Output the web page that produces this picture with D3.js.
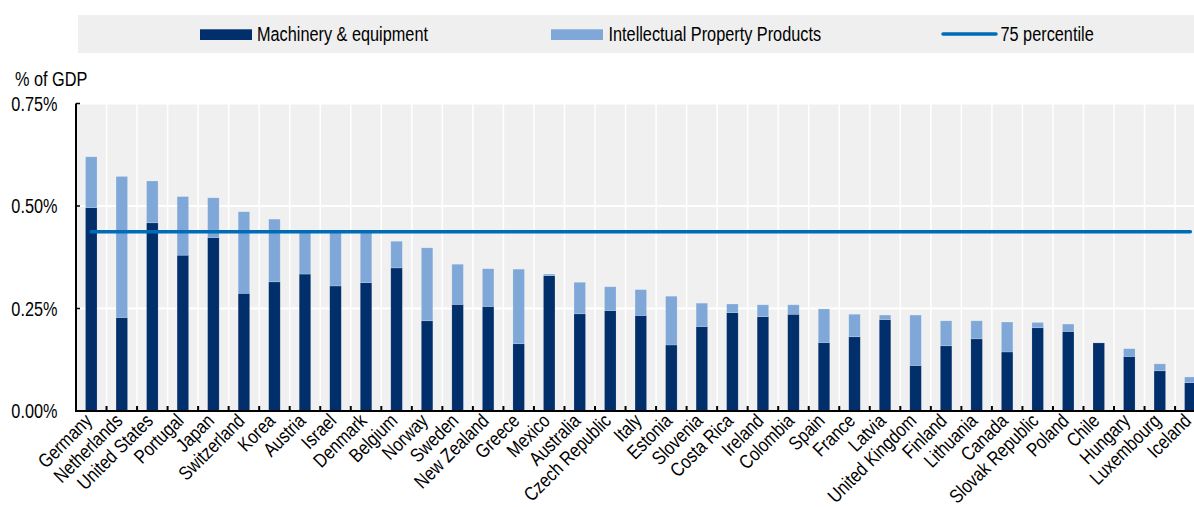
<!DOCTYPE html>
<html><head><meta charset="utf-8">
<script src="https://cdnjs.cloudflare.com/ajax/libs/d3/7.8.5/d3.min.js"></script>
<style>body{margin:0;background:#fff}svg{display:block}text{font-family:"Liberation Sans",Arial,sans-serif;fill:#000}</style>
</head><body><svg id="c" width="1194" height="507"></svg>
<script>
const countries = ["Germany","Netherlands","United States","Portugal","Japan","Switzerland","Korea","Austria","Israel","Denmark","Belgium","Norway","Sweden","New Zealand","Greece","Mexico","Australia","Czech Republic","Italy","Estonia","Slovenia","Costa Rica","Ireland","Colombia","Spain","France","Latvia","United Kingdom","Finland","Lithuania","Canada","Slovak Republic","Poland","Chile","Hungary","Luxembourg","Iceland"];
const machinery = [0.496,0.228,0.459,0.380,0.423,0.287,0.315,0.334,0.305,0.313,0.349,0.220,0.260,0.255,0.164,0.330,0.237,0.245,0.233,0.161,0.206,0.240,0.230,0.236,0.167,0.181,0.223,0.111,0.159,0.176,0.144,0.203,0.194,0.166,0.133,0.098,0.069];
const ipp = [0.124,0.344,0.102,0.143,0.097,0.199,0.153,0.101,0.130,0.122,0.065,0.178,0.098,0.092,0.182,0.004,0.077,0.058,0.063,0.119,0.057,0.021,0.029,0.023,0.082,0.055,0.011,0.123,0.061,0.044,0.073,0.013,0.018,0.000,0.019,0.017,0.014];
const percentile75 = 0.437;
const yTicks = [0, 0.25, 0.5, 0.75];
const yTickLabels = ["0.00%","0.25%","0.50%","0.75%"];
const seriesNames = ["Machinery & equipment","Intellectual Property Products","75 percentile"];
const colors = {me:"#002F6C", ipp:"#7FA8D9", line:"#006BB6", bg:"#F0F0F0"};

const svg = d3.select("#c");
const SX = 0.835, FS = 19.5;
const plotL = 76, plotT = 103.5, plotB = 411;
const step = 30.53;
const x = d3.scaleBand().domain(countries).range([plotL, plotL + step*countries.length]).padding(0);
const y = d3.scaleLinear().domain([0, 0.75]).range([plotB, plotT]);
const barW = 11.5;

function txt(g, s, tx, ty, anchor, rot){
  return g.append("text").text(s).attr("text-anchor", anchor).style("font-size", FS+"px")
    .attr("transform", `translate(${tx},${ty})` + (rot ? ` rotate(${rot})` : "") + ` scale(${SX},1)`);
}

// legend
const lg = svg.append("g");
lg.append("rect").attr("x",78).attr("y",15).attr("width",1194-78).attr("height",38).attr("fill","#EFEFEF");
lg.append("rect").attr("x",200).attr("y",29.3).attr("width",52).attr("height",10.7).attr("fill",colors.me);
txt(lg, seriesNames[0], 257, 41, "start");
lg.append("rect").attr("x",551).attr("y",29.3).attr("width",52).attr("height",10.7).attr("fill",colors.ipp);
txt(lg, seriesNames[1], 608.5, 41, "start");
lg.append("line").attr("x1",943).attr("x2",996).attr("y1",34).attr("y2",34).attr("stroke",colors.line).attr("stroke-width",3.5).attr("stroke-linecap","round");
txt(lg, seriesNames[2], 1000.5, 41, "start");

// y title
txt(svg, "% of GDP", 15, 86, "start");

// plot background
const xEnd = 1194;
svg.append("rect").attr("x",plotL).attr("y",plotT).attr("width",xEnd-plotL).attr("height",plotB-plotT).attr("fill",colors.bg);

// gridlines
const bounds = countries.map(c => x(c)).slice(1);
svg.append("g").selectAll("line").data(bounds).join("line")
  .attr("x1",d=>d).attr("x2",d=>d).attr("y1",plotT).attr("y2",plotB)
  .attr("stroke","#fff").attr("stroke-width",1.5);
svg.append("g").selectAll("line").data(yTicks.slice(1)).join("line")
  .attr("x1",plotL).attr("x2",xEnd).attr("y1",d=>y(d)).attr("y2",d=>y(d))
  .attr("stroke","#fff").attr("stroke-width",2);

// bars
const stack = countries.map((c,i)=>({c, me:machinery[i], ipp:ipp[i]}));
const bg = svg.append("g");
bg.selectAll(".me").data(stack).join("rect").attr("class","me")
  .attr("x",d=>x(d.c)+x.bandwidth()/2-barW/2).attr("width",barW)
  .attr("y",d=>y(d.me)).attr("height",d=>y(0)-y(d.me)).attr("fill",colors.me)
  .attr("stroke","rgba(255,255,255,0.25)").attr("stroke-width",0.6);
bg.selectAll(".ipp").data(stack.filter(d=>d.ipp>0)).join("rect").attr("class","ipp")
  .attr("x",d=>x(d.c)+x.bandwidth()/2-barW/2).attr("width",barW)
  .attr("y",d=>y(d.me+d.ipp)).attr("height",d=>y(d.me)-y(d.me+d.ipp)).attr("fill",colors.ipp)
  .attr("stroke","rgba(255,255,255,0.3)").attr("stroke-width",0.6);

// percentile line
const first = countries[0], last = countries[countries.length-1];
svg.append("line").attr("x1",x(first)+x.bandwidth()/2).attr("x2",x(last)+x.bandwidth()/2)
  .attr("y1",y(percentile75)).attr("y2",y(percentile75))
  .attr("stroke",colors.line).attr("stroke-width",3.5).attr("stroke-linecap","round");

// axes
svg.append("line").attr("x1",plotL).attr("x2",plotL).attr("y1",plotT).attr("y2",plotB+1).attr("stroke","#000").attr("stroke-width",2);
svg.append("line").attr("x1",plotL-1).attr("x2",xEnd).attr("y1",plotB).attr("y2",plotB).attr("stroke","#000").attr("stroke-width",2);
svg.append("g").selectAll("line").data(yTicks.slice(1)).join("line")
  .attr("x1",plotL).attr("x2",plotL+4).attr("y1",d=>y(d)).attr("y2",d=>y(d)).attr("stroke","#000").attr("stroke-width",1.5);
svg.append("g").selectAll("line").data(bounds).join("line")
  .attr("x1",d=>d).attr("x2",d=>d).attr("y1",plotB).attr("y2",plotB-5).attr("stroke","#000").attr("stroke-width",2);

// y labels
yTicks.forEach((t,i)=>txt(svg, yTickLabels[i], 57.5, y(t)+7, "end"));

// x labels
countries.forEach(c=>txt(svg, c, x(c)+x.bandwidth()/2+2, 422, "end", -45));
</script></body></html>
